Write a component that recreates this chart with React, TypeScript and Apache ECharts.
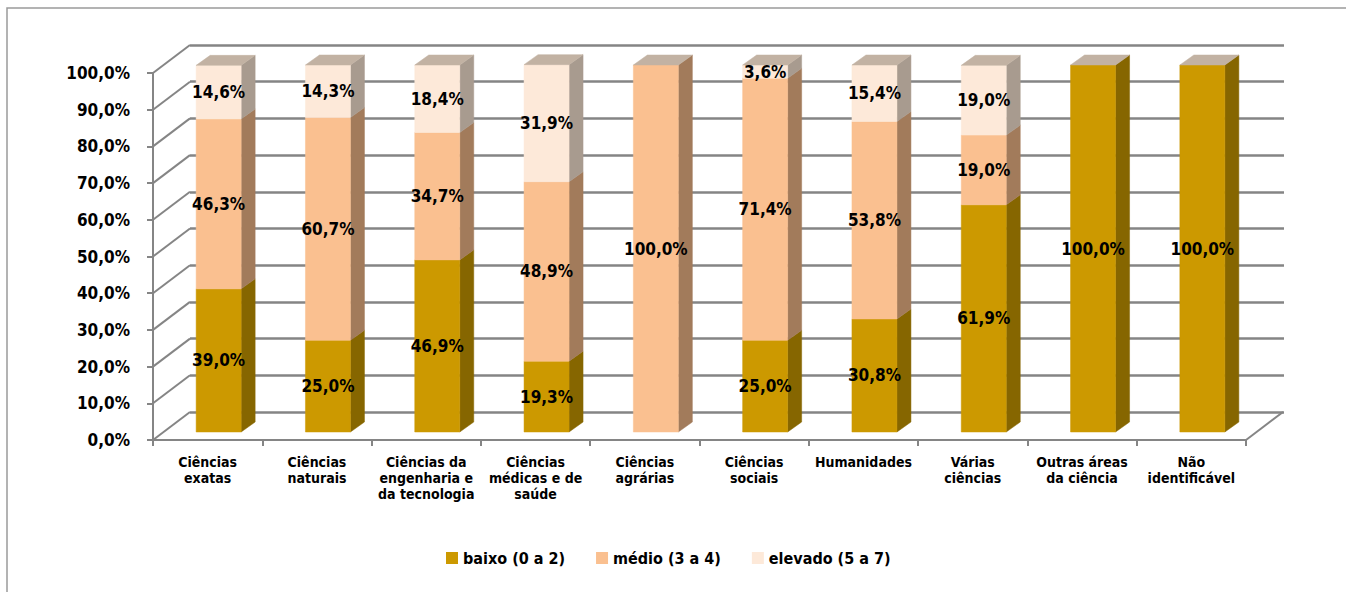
import React, { useEffect, useRef } from 'react';
import * as echarts from 'echarts';

// ---------- data ----------
const categories = [
  'Ciências\nexatas',
  'Ciências\nnaturais',
  'Ciências da\nengenharia e\nda tecnologia',
  'Ciências\nmédicas e de\nsaúde',
  'Ciências\nagrárias',
  'Ciências\nsociais',
  'Humanidades',
  'Várias\nciências',
  'Outras áreas\nda ciência',
  'Não\nidentificável',
];
const seriesNames = ['baixo (0 a 2)', 'médio (3 a 4)', 'elevado (5 a 7)'];
const baixo = [39.0, 25.0, 46.9, 19.3, 0, 25.0, 30.8, 61.9, 100.0, 100.0];
const medio = [46.3, 60.7, 34.7, 48.9, 100.0, 71.4, 53.8, 19.0, 0, 0];
const elevado = [14.6, 14.3, 18.4, 31.9, 0, 3.6, 15.4, 19.0, 0, 0];
const yTicks = [0, 10, 20, 30, 40, 50, 60, 70, 80, 90, 100];

// ---------- styles ----------
const FONT = '"DejaVu Sans Condensed", "DejaVu Sans", sans-serif';
const frontColors = ['#CC9900', '#FAC090', '#FDE9D9'];
const sideColors = ['#866600', '#A27B5B', '#A89B8F'];
const topColor = '#C2B2A3';
const gridColor = '#858585';
const WALL_DX = 37;
const WALL_DY = -28;
const BAR_OFF_X = 11;
const BAR_OFF_Y = -8;
const BAR_W = 45;
const BAR_DX = 14;
const BAR_DY = -10;

const fmt = (v: number) => v.toFixed(1).replace('.', ',') + '%';

const allValues = [baixo, medio, elevado];

function buildSeriesData(s: number) {
  return categories.map((_, i) => {
    let lo = 0;
    for (let k = 0; k < s; k++) lo += allValues[k][i];
    const val = allValues[s][i];
    let topIdx = 0;
    for (let k = 0; k < allValues.length; k++) if (allValues[k][i] > 0) topIdx = k;
    return [i, lo, lo + val, val, topIdx === s ? 1 : 0];
  });
}

export default function App() {
  const ref = useRef<HTMLDivElement>(null);
  useEffect(() => {
    if (!ref.current) return;
    const chart = echarts.init(ref.current, undefined, { renderer: 'svg' });

    const barSeries = seriesNames.map((name, s) => ({
      type: 'custom',
      name,
      xAxisIndex: 0,
      yAxisIndex: 0,
      z: 3 + s,
      itemStyle: { color: frontColors[s] },
      encode: { x: 0, y: [1, 2] },
      data: buildSeriesData(s),
      renderItem: (params: any, api: any) => {
        const ci = api.value(0);
        const lo = api.value(1);
        const hi = api.value(2);
        const val = api.value(3);
        const isTop = api.value(4);
        if (!(val > 0)) return { type: 'group', children: [] };
        const pLo = api.coord([ci, lo]);
        const pHi = api.coord([ci, hi]);
        const pMid = api.coord([ci, (lo + hi) / 2]);
        const cx = pLo[0] + BAR_OFF_X;
        const x0 = cx - BAR_W / 2;
        const x1 = cx + BAR_W / 2;
        const yb = pLo[1] + BAR_OFF_Y;
        const yt = pHi[1] + BAR_OFF_Y;
        const children: any[] = [
          {
            type: 'polygon',
            shape: { points: [[x1, yb], [x1 + BAR_DX, yb + BAR_DY], [x1 + BAR_DX, yt + BAR_DY], [x1, yt]] },
            style: { fill: sideColors[s], stroke: sideColors[s], lineWidth: 0.5 },
          },
          {
            type: 'rect',
            shape: { x: x0, y: yt, width: BAR_W, height: yb - yt },
            style: { fill: frontColors[s], stroke: frontColors[s], lineWidth: 0.5 },
          },
        ];
        if (isTop) {
          children.push({
            type: 'polygon',
            shape: { points: [[x0, yt], [x1, yt], [x1 + BAR_DX, yt + BAR_DY], [x0 + BAR_DX, yt + BAR_DY]] },
            style: { fill: topColor, stroke: topColor, lineWidth: 0.5 },
          });
        }
        children.push({
          type: 'text',
          z2: 10,
          style: {
            text: fmt(val),
            x: cx,
            y: pMid[1] + BAR_OFF_Y,
            align: 'center',
            verticalAlign: 'middle',
            fontFamily: FONT,
            fontWeight: 'bold',
            fontSize: 17,
            fill: '#000',
          },
        });
        return { type: 'group', children };
      },
    }));

    const wallSeries = {
      type: 'custom',
      name: 'wall',
      xAxisIndex: 0,
      yAxisIndex: 0,
      z: 1,
      silent: true,
      encode: { x: 0, y: 1 },
      data: yTicks.map((v) => [0, v]),
      renderItem: (params: any, api: any) => {
        const v = api.value(1);
        const p = api.coord([0, v]);
        const cs = params.coordSys;
        const x = cs.x;
        const children: any[] = [
          {
            type: 'line',
            shape: { x1: x, y1: p[1], x2: x + WALL_DX, y2: p[1] + WALL_DY },
            style: { stroke: gridColor, lineWidth: 2 },
          },
        ];
        if (v === 0) {
          const xr = cs.x + cs.width;
          children.push({
            type: 'line',
            shape: { x1: xr, y1: p[1], x2: xr + WALL_DX, y2: p[1] + WALL_DY },
            style: { stroke: gridColor, lineWidth: 2 },
          });
        }
        return { type: 'group', children };
      },
    };

    const option: any = {
      animation: false,
      backgroundColor: '#fff',
      graphic: [
        {
          type: 'rect',
          shape: { x: 7, y: 8, width: 1360, height: 600 },
          style: { fill: 'none', stroke: '#9a9a9a', lineWidth: 1.5 },
          silent: true,
          z: -1,
        },
      ],
      legend: {
        data: seriesNames,
        left: 441,
        top: 545,
        icon: 'rect',
        itemWidth: 12,
        itemHeight: 12,
        itemGap: 31,
        textStyle: { fontFamily: FONT, fontWeight: 'bold', fontSize: 16, color: '#000' },
      },
      grid: [
        { left: 153, top: 73, width: 1093, height: 367 },
        { left: 190, top: 45, width: 1094, height: 367 },
      ],
      xAxis: [
        {
          type: 'category',
          gridIndex: 0,
          data: categories,
          axisLine: { show: true, lineStyle: { color: gridColor, width: 2 } },
          axisTick: { show: true, length: 6, lineStyle: { color: gridColor, width: 2 } },
          axisLabel: {
            interval: 0,
            margin: 14,
            fontFamily: FONT,
            fontWeight: 'bold',
            fontSize: 14,
            lineHeight: 16,
            color: '#000',
          },
          splitLine: { show: false },
        },
        {
          type: 'category',
          gridIndex: 1,
          data: categories,
          show: false,
        },
      ],
      yAxis: [
        {
          type: 'value',
          gridIndex: 0,
          min: 0,
          max: 100,
          interval: 10,
          axisLine: { show: true, lineStyle: { color: gridColor, width: 2 } },
          axisTick: { show: true, length: 6, lineStyle: { color: gridColor, width: 2 } },
          axisLabel: {
            margin: 23,
            formatter: (v: number) => fmt(v),
            fontFamily: FONT,
            fontWeight: 'bold',
            fontSize: 17,
            color: '#000',
          },
          splitLine: { show: false },
        },
        {
          type: 'value',
          gridIndex: 1,
          min: 0,
          max: 100,
          interval: 10,
          axisLine: { show: false },
          axisTick: { show: false },
          axisLabel: { show: false },
          splitLine: { show: true, lineStyle: { color: gridColor, width: 2.5 } },
        },
      ],
      series: [wallSeries, ...barSeries],
    };
    chart.setOption(option);
    return () => chart.dispose();
  }, []);

  return (
    <div
      ref={ref}
      style={{ position: 'absolute', left: 0, top: 0, width: 1346, height: 592 }}
    />
  );
}
